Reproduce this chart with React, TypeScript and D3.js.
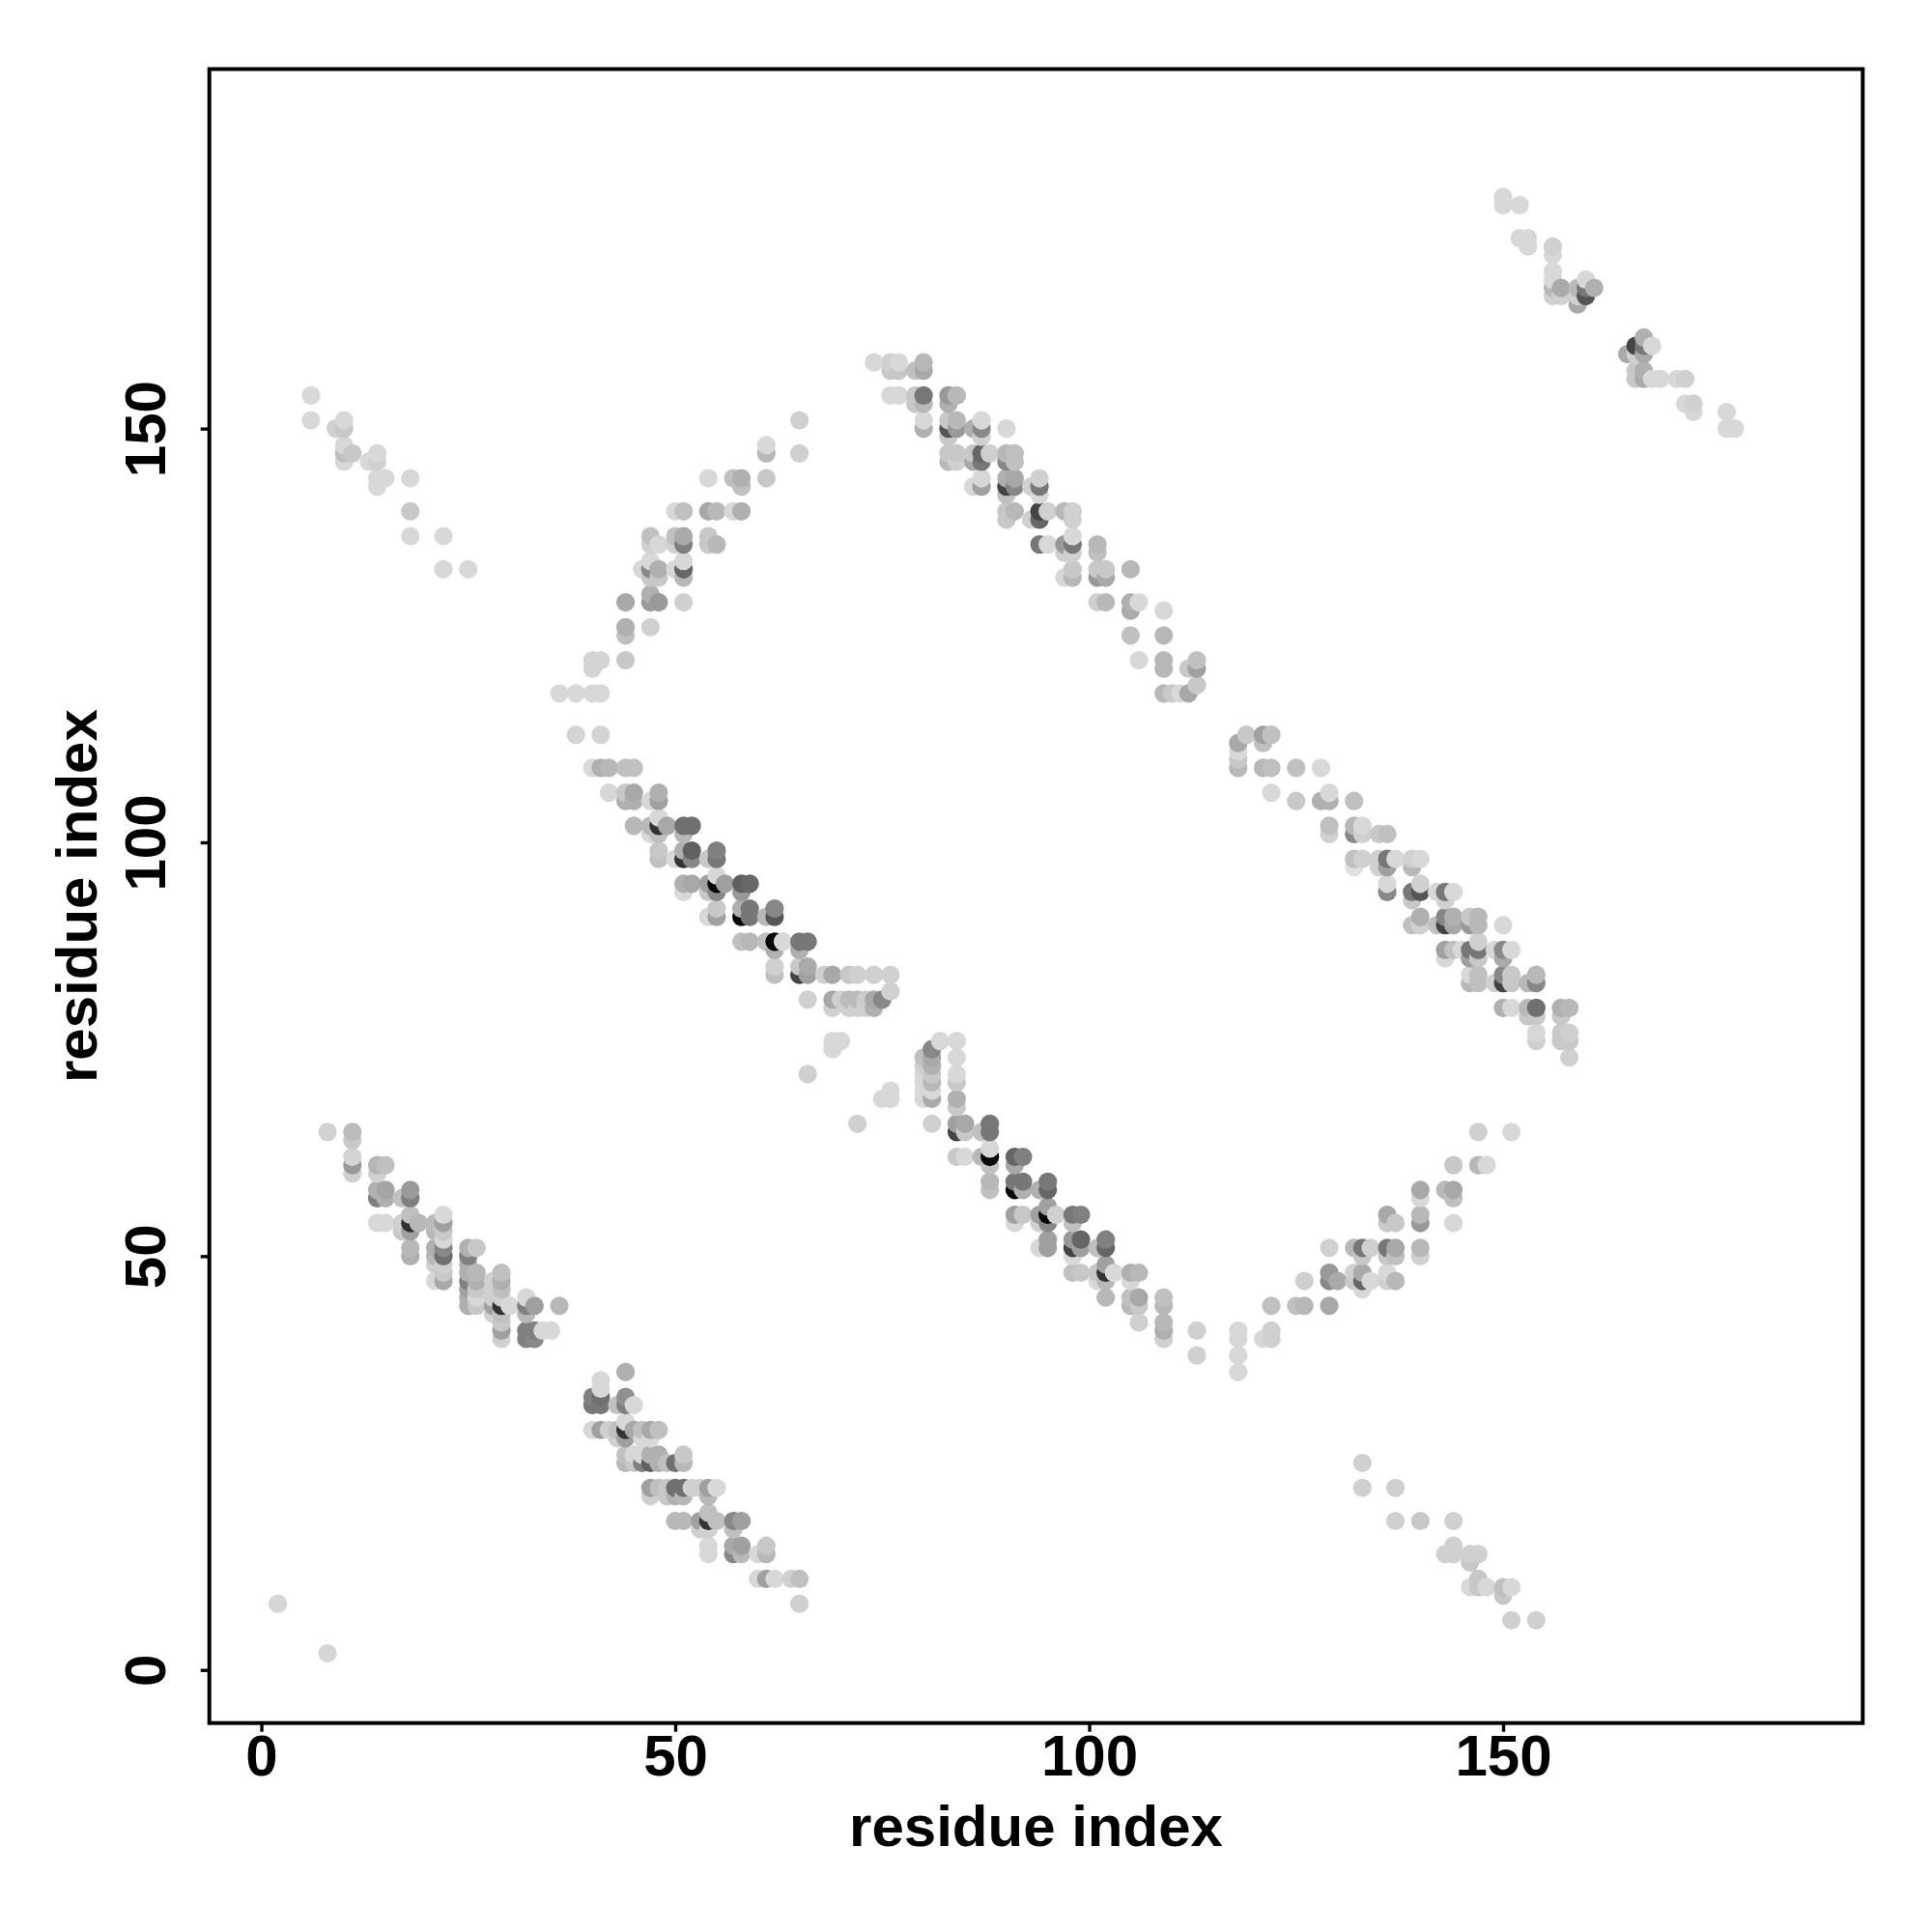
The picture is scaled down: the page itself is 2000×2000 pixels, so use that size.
/**
 * Residue contact map. Points are [residue x, residue y, gray level].
 * Drawn sorted by x then y, later points sit on top of earlier ones.
 */
import React, { useRef, useEffect } from 'react';
import * as d3 from 'd3';

type Contact = [number, number, number];

const SIZE = 2000;
const FONT = '"Liberation Sans", Arial, sans-serif';

const xTicks = [0, 50, 100, 150];
const yTicks = [0, 50, 100, 150];
const axisTitle = 'residue index';

const strayPoints: Contact[] = [
  [2, 8, 0xd6], [8, 2, 0xd6],
];

const lowerHelixA: Contact[] = [
  [8, 65, 0xd2], [11, 65, 0xbb], [11, 64, 0xca], [11, 62, 0xd4], [11, 61, 0x99], [11, 60, 0xd0],
  [14, 61, 0xb5], [15, 61, 0xc0], [14, 60, 0xd0], [14, 58, 0xb0], [15, 58, 0xa5], [14, 57, 0x80], [15, 57, 0xb0],
  [17, 57, 0xc0], [18, 58, 0x9a], [18, 57, 0x80], [14, 54, 0xd8], [15, 54, 0xd8], [17, 54, 0xd0], [17, 53, 0xc8],
  [18, 55, 0xc0], [18, 54, 0x30], [19, 54, 0xb8], [18, 53, 0xa0], [18, 51, 0xb8], [18, 50, 0xb0],
  [21, 54, 0xbb], [21, 53, 0xb8], [22, 55, 0xd8], [22, 54, 0xa0], [22, 53, 0xc8], [22, 52, 0xd8], [22, 51, 0x88],
  [22, 50, 0x70], [21, 51, 0xb0], [21, 50, 0xb8], [21, 49, 0xd0], [22, 49, 0xd0], [21, 47, 0xd8], [22, 48, 0xc8], [22, 47, 0xa8],
  [25, 51, 0xb0], [26, 51, 0xc8], [25, 50, 0x80], [25, 49, 0xb0], [25, 48, 0xb0], [26, 48, 0xb8], [26, 47, 0xb0],
  [25, 47, 0x80], [25, 46, 0xa0], [26, 46, 0xc8], [26, 45, 0xd8], [25, 45, 0xb0], [25, 44, 0xb0], [26, 44, 0xc8],
  [28, 47, 0xd0], [28, 46, 0xd0], [28, 45, 0xd0], [28, 44, 0xa0], [28, 43, 0xd0],
  [29, 48, 0xc0], [29, 47, 0xb0], [29, 46, 0xc0], [29, 45, 0xd0], [29, 44, 0x33], [29, 43, 0xc0], [30, 44, 0xd8],
  [29, 42, 0xc8], [29, 41, 0xa0], [29, 40, 0xd0], [32, 45, 0xd8], [32, 44, 0x80], [33, 44, 0xa0], [32, 43, 0xb8],
  [32, 41, 0x80], [32, 40, 0x80], [33, 41, 0x80], [33, 40, 0x88], [34, 41, 0xd8], [35, 41, 0xd8], [36, 44, 0xb8],
];

const lowerHelixB: Contact[] = [
  [44, 36, 0xb0], [41, 35, 0xd8], [41, 34, 0xd8], [40, 33, 0x80], [41, 33, 0x70], [40, 32, 0x78], [41, 32, 0x78],
  [44, 33, 0x90], [43, 32, 0xc0], [44, 32, 0x80], [45, 32, 0xd8],
  [40, 29, 0xd8], [41, 29, 0xa0], [42, 29, 0xd0], [43, 29, 0xc0], [44, 29, 0x33], [45, 29, 0xa8], [46, 29, 0xc0], [47, 29, 0xa8], [48, 29, 0xc0],
  [44, 30, 0xd8], [43, 28, 0xd0], [44, 28, 0xa0], [46, 28, 0xd8], [47, 28, 0xd8],
  [44, 26, 0xc0], [45, 26, 0xd8], [46, 26, 0xd8], [47, 26, 0xb0], [48, 26, 0xb0], [51, 26, 0xc8],
  [44, 25, 0xb8], [45, 25, 0xc8], [46, 25, 0x80], [47, 25, 0x60], [48, 25, 0xb0], [49, 25, 0xc0], [50, 25, 0x70], [51, 25, 0xb8],
  [47, 22, 0xa0], [48, 22, 0xc0], [49, 22, 0xc8], [50, 22, 0x70], [51, 22, 0x70], [52, 22, 0xd0], [53, 22, 0xd0], [54, 22, 0xa0], [55, 22, 0xd8],
  [47, 21, 0xd0], [49, 21, 0xc8], [50, 21, 0xb0], [51, 21, 0xb8], [54, 21, 0xb8],
  [50, 18, 0xb8], [51, 18, 0xb8], [53, 18, 0xa0], [54, 19, 0xc0], [54, 18, 0x33], [55, 18, 0xc0], [54, 17, 0xd0], [53, 17, 0xd0],
  [57, 18, 0x88], [58, 18, 0xa0], [57, 17, 0xc0], [54, 15, 0xd8], [54, 14, 0xd8], [57, 15, 0xa8], [58, 15, 0xa0], [57, 14, 0x88], [58, 14, 0xb8],
  [60, 14, 0xd8], [61, 15, 0xc8], [61, 14, 0xb8], [60, 11, 0xd8], [61, 11, 0xa0], [62, 11, 0xd8], [64, 11, 0xd0], [65, 11, 0xc0], [65, 8, 0xd0],
];

const middleHelix: Contact[] = [
  [36, 118, 0xd8], [38, 118, 0xd8], [40, 118, 0xd8], [41, 118, 0xd8], [40, 122, 0xd4], [41, 122, 0xd4], [40, 121, 0xd4], [44, 122, 0xc8],
  [38, 113, 0xd4], [41, 113, 0xd4], [40, 109, 0xd8], [41, 109, 0xb0], [42, 109, 0xb8], [44, 109, 0xc0], [45, 109, 0xc0],
  [42, 106, 0xd8], [44, 106, 0xc8], [45, 106, 0xa8], [48, 106, 0xb0], [44, 105, 0xb0], [45, 105, 0xb0], [47, 105, 0xd8], [48, 105, 0xa0],
  [45, 102, 0xb8], [47, 102, 0xb8], [48, 103, 0xd8], [48, 102, 0x33], [49, 102, 0xa8], [51, 102, 0x70], [52, 102, 0x70],
  [47, 101, 0xd8], [48, 101, 0xc0], [51, 101, 0xb8], [48, 99, 0xc8], [51, 99, 0xb0], [52, 99, 0x60], [55, 99, 0x80],
  [48, 98, 0xc0], [50, 98, 0xd8], [51, 98, 0x33], [52, 98, 0x88], [54, 98, 0xc8], [55, 98, 0x77],
  [51, 95, 0xb0], [52, 95, 0xa8], [54, 95, 0xa0], [55, 96, 0xd8], [55, 95, 0x08], [56, 95, 0xa0], [58, 95, 0x60], [59, 95, 0x68],
  [51, 94, 0xd8], [54, 94, 0xc8], [55, 94, 0x88], [58, 94, 0x99], [55, 92, 0xc8], [58, 92, 0xb0], [59, 92, 0x77], [62, 92, 0x88],
  [54, 91, 0xd8], [55, 91, 0xa0], [58, 91, 0x08], [59, 91, 0x77], [61, 91, 0xb8], [62, 91, 0x55],
  [58, 88, 0xc0], [59, 88, 0xb8], [61, 88, 0xc0], [62, 88, 0x08], [63, 88, 0xd8], [65, 88, 0x77], [66, 88, 0x77],
  [62, 87, 0xb0], [65, 87, 0xb0], [62, 85, 0xd0], [65, 85, 0xc8], [66, 85, 0xaa],
  [62, 84, 0xc0], [65, 84, 0x44], [66, 84, 0xa0], [68, 84, 0xd0], [69, 84, 0xa8], [71, 84, 0xc8], [72, 84, 0xd0], [74, 84, 0xd0], [76, 84, 0xd0],
  [76, 82, 0xd0], [66, 81, 0xd0], [69, 81, 0xa8], [70, 81, 0xd0], [71, 81, 0xbb], [72, 81, 0xbb], [73, 81, 0xcc], [74, 81, 0xa8], [75, 81, 0x88],
  [69, 80, 0xd0], [71, 80, 0xd0], [72, 80, 0xd0], [73, 80, 0xd0], [74, 80, 0xb0],
  [69, 76, 0xd8], [70, 76, 0xd8], [69, 75, 0xd8], [66, 72, 0xd0], [76, 70, 0xd8], [75, 69, 0xd8], [76, 69, 0xd8], [72, 66, 0xd0],
];

const centralHelix: Contact[] = [
  [81, 75, 0x88], [82, 76, 0xd8], [84, 76, 0xd8], [80, 74, 0xc0], [81, 74, 0xa8],
  [80, 73, 0xd0], [80, 72, 0xd8], [80, 71, 0xd8], [80, 70, 0xd8], [80, 69, 0xd8],
  [81, 73, 0xb0], [81, 72, 0xc8], [81, 71, 0xb8], [81, 70, 0xd8], [81, 69, 0xaa],
  [84, 74, 0xd8], [84, 72, 0xd8], [84, 71, 0xc8], [84, 69, 0xb0], [84, 68, 0xc8], [81, 66, 0xd0],
  [84, 66, 0xa0], [85, 66, 0xa8], [88, 66, 0x77], [84, 65, 0x44], [85, 65, 0xc8], [87, 65, 0xc0], [88, 65, 0x77],
  [84, 62, 0xc8], [85, 62, 0xd8], [87, 62, 0xb8], [88, 63, 0xd8], [88, 62, 0x08], [91, 62, 0x66], [92, 62, 0x80],
  [88, 61, 0xc0], [91, 61, 0xa8], [88, 59, 0xb8], [91, 59, 0x77], [92, 59, 0x77], [95, 59, 0x77],
  [88, 58, 0xc0], [91, 58, 0x08], [92, 58, 0xb0], [94, 58, 0xb0], [95, 58, 0x66],
  [91, 55, 0xa0], [92, 55, 0xc8], [94, 55, 0xa0], [95, 56, 0xa0], [95, 55, 0x04], [96, 55, 0xd0], [98, 55, 0x77], [99, 55, 0x80],
  [91, 54, 0xd8], [94, 54, 0xd0], [95, 54, 0x88], [98, 54, 0xc0], [95, 52, 0xa0], [98, 52, 0x99], [99, 52, 0x66], [102, 52, 0x80],
  [94, 51, 0xd8], [95, 51, 0xa0], [98, 51, 0x44], [99, 51, 0xa0], [101, 51, 0xc0], [102, 51, 0x66], [98, 50, 0xd8],
  [98, 48, 0xc0], [99, 48, 0xc8], [101, 48, 0xc8], [102, 49, 0xa0], [102, 48, 0x33], [103, 48, 0xd8], [105, 48, 0xb0], [106, 48, 0xb8],
  [101, 47, 0xd8], [102, 47, 0xb8], [105, 47, 0xd8], [102, 45, 0xb8], [105, 45, 0xc0], [106, 45, 0xa8], [109, 45, 0xc0],
  [105, 44, 0xb8], [106, 44, 0xc8], [109, 44, 0xb8], [109, 42, 0xb8], [109, 41, 0xb0], [109, 40, 0xd0], [106, 42, 0xd0],
  [113, 41, 0xd0], [113, 38, 0xd0], [118, 41, 0xd8], [118, 40, 0xd8], [118, 38, 0xd8], [118, 36, 0xd8],
  [121, 40, 0xd8], [122, 41, 0xd0], [122, 40, 0xd0], [122, 44, 0xc0], [125, 44, 0xc0], [126, 44, 0xb8], [126, 47, 0xd0],
];

const risingStrandLow: Contact[] = [
  [147, 65, 0xd0], [151, 65, 0xd8], [144, 61, 0xc8], [147, 61, 0xb8], [148, 61, 0xd8],
  [140, 58, 0xa8], [140, 57, 0xd8], [143, 58, 0xb8], [144, 58, 0xa8], [144, 57, 0xc0],
  [136, 55, 0xa8], [136, 54, 0xc8], [137, 54, 0xc8], [140, 55, 0xb8], [140, 54, 0x99], [144, 54, 0xd8],
  [129, 51, 0xd0], [132, 51, 0xb8], [133, 51, 0x77], [134, 51, 0xd0], [133, 50, 0xc8], [136, 51, 0x77], [137, 51, 0xa8],
  [136, 50, 0xc8], [137, 50, 0xc0], [140, 51, 0xb8], [140, 50, 0xd0],
  [129, 48, 0x99], [132, 48, 0xd0], [133, 48, 0xaa], [136, 48, 0xd8], [129, 47, 0x88], [130, 47, 0xaa], [132, 47, 0xc8],
  [133, 47, 0x66], [134, 47, 0xd8], [136, 47, 0xd0], [137, 47, 0xb8], [133, 46, 0xd8], [129, 44, 0xa8],
];

const lowerRightStrand: Contact[] = [
  [133, 25, 0xd0], [133, 22, 0xd0], [137, 22, 0xd0], [137, 18, 0xd0], [140, 18, 0xc8], [144, 18, 0xd0],
  [144, 15, 0xd0], [143, 14, 0xd0], [144, 14, 0xd0], [146, 14, 0xd0], [147, 14, 0xd0], [146, 13, 0xc8],
  [147, 11, 0xc8], [146, 10, 0xd8], [147, 10, 0xc8], [148, 10, 0xd8], [150, 10, 0xc0], [151, 10, 0xd8], [150, 9, 0xc8],
  [151, 6, 0xd0], [154, 6, 0xd0],
];

const rightHelix: Contact[] = [
  [119, 113, 0xc8], [118, 112, 0xa8], [121, 113, 0xa0], [122, 113, 0xc0], [121, 112, 0xc0], [118, 111, 0xd8], [118, 110, 0xc8], [118, 109, 0xb8],
  [121, 109, 0xb8], [122, 109, 0xc0], [125, 109, 0xc0], [128, 109, 0xd8], [122, 106, 0xd8], [125, 105, 0xc8], [128, 105, 0xb0], [129, 105, 0xb0],
  [129, 106, 0xd8], [132, 105, 0xc0], [129, 102, 0xc0], [129, 101, 0xd0], [132, 102, 0xb8], [132, 101, 0x88], [133, 102, 0xd8], [133, 101, 0xd0],
  [135, 101, 0xc8], [136, 101, 0xc0], [132, 98, 0xc0], [133, 98, 0xd0], [132, 97, 0xe0], [135, 98, 0xd0], [136, 98, 0x77], [137, 98, 0xd8],
  [135, 97, 0xd0], [136, 97, 0xa0], [139, 98, 0xd0], [140, 98, 0xd8], [139, 97, 0xb8], [136, 95, 0xd8], [136, 94, 0x88], [139, 94, 0x77],
  [140, 95, 0xd0], [140, 94, 0x55], [142, 94, 0xd8], [143, 94, 0x77], [144, 94, 0xd8], [139, 93, 0xc8], [143, 93, 0xd0],
  [140, 91, 0xb0], [139, 90, 0xc0], [140, 90, 0xd0], [142, 90, 0xc0], [143, 91, 0x88], [143, 90, 0x44], [144, 91, 0xb0], [144, 90, 0xa8],
  [146, 91, 0xc8], [147, 91, 0xb8], [146, 90, 0x99], [147, 90, 0xb8], [150, 90, 0xd8],
  [143, 87, 0xa0], [144, 87, 0xc0], [145, 87, 0xd8], [146, 87, 0x77], [147, 88, 0xd0], [147, 87, 0x77], [149, 87, 0xd8], [150, 87, 0x88], [151, 87, 0xd8],
  [143, 86, 0xd8], [146, 86, 0xa0], [147, 86, 0xc8], [150, 86, 0xaa],
  [146, 84, 0xd8], [147, 84, 0xc0], [150, 84, 0x88], [151, 84, 0xc8], [154, 84, 0xb8], [153, 83, 0xb8], [154, 83, 0x88],
  [146, 83, 0xb8], [147, 83, 0xc0], [149, 83, 0xd0], [150, 83, 0x44], [151, 83, 0xc8],
  [150, 80, 0xb0], [151, 80, 0xd8], [153, 80, 0xb8], [154, 80, 0x70], [157, 80, 0xb0], [158, 80, 0xb8],
  [153, 79, 0xc8], [154, 79, 0xc8], [157, 79, 0xc8], [154, 77, 0xd8], [157, 77, 0xc8], [158, 77, 0xd0],
  [154, 76, 0xd0], [157, 76, 0xc8], [158, 76, 0xc8], [158, 74, 0xd0],
];

const upperHelix: Contact[] = [
  [74, 158, 0xd8], [76, 158, 0xd0], [77, 158, 0xd8], [76, 157, 0xc8], [77, 157, 0xc8], [79, 157, 0xc0], [80, 158, 0xb8], [80, 157, 0xa8],
  [76, 154, 0xd8], [77, 154, 0xd8], [79, 154, 0xc8], [80, 154, 0x77], [79, 153, 0xc8], [80, 153, 0xb8], [83, 154, 0x99], [84, 154, 0xb8], [83, 153, 0xb0],
  [80, 151, 0xd8], [80, 150, 0xb0], [83, 151, 0xc8], [84, 151, 0xb8], [83, 150, 0x55], [84, 150, 0x99], [83, 149, 0xc8], [86, 150, 0xb0],
  [87, 151, 0xd8], [87, 150, 0x88], [87, 149, 0xd0], [90, 150, 0xd8],
  [83, 147, 0xc8], [84, 147, 0xc8], [86, 147, 0xc8], [87, 147, 0x66], [88, 147, 0xd0], [90, 147, 0xb8], [91, 147, 0xc0],
  [83, 146, 0xb8], [84, 146, 0xd0], [86, 146, 0xa8], [87, 146, 0x77], [90, 146, 0x88], [91, 146, 0xc0],
  [87, 144, 0xd8], [90, 144, 0xb0], [91, 144, 0xa8], [94, 144, 0xd0], [86, 143, 0xd8], [87, 143, 0xa0], [90, 143, 0x44], [91, 143, 0x88], [93, 143, 0xd0], [94, 143, 0x77],
  [90, 142, 0xc0], [94, 142, 0xd8], [90, 140, 0xc8], [91, 140, 0xb8], [94, 140, 0x44], [95, 140, 0xd0], [97, 140, 0xb8], [98, 140, 0xd0],
  [90, 139, 0xc8], [93, 139, 0xd0], [94, 139, 0x66], [98, 139, 0xd0],
  [94, 136, 0x77], [95, 136, 0xd8], [97, 136, 0x99], [98, 137, 0xd8], [98, 136, 0x77], [101, 136, 0xb8], [97, 135, 0xd0], [98, 135, 0xd0], [101, 135, 0xc0],
  [98, 133, 0xc8], [101, 133, 0xc8], [102, 133, 0xc8], [105, 133, 0xb8], [97, 132, 0xd8], [98, 132, 0xb8], [101, 132, 0x99], [102, 132, 0xaa],
  [101, 129, 0xd0], [102, 129, 0xb8], [105, 129, 0xb0], [106, 129, 0xd8], [105, 128, 0xaa], [109, 128, 0xd8], [105, 125, 0xc0], [109, 125, 0xb8],
  [106, 122, 0xd8], [109, 122, 0xb8], [109, 121, 0xb8], [112, 121, 0xc8], [113, 122, 0xc0], [113, 121, 0xa0],
  [109, 118, 0xb8], [110, 118, 0xc8], [111, 118, 0xd8], [112, 118, 0xa8], [113, 119, 0xc8],
];

const risingStrandHigh: Contact[] = [
  [65, 151, 0xd0], [65, 147, 0xd0], [61, 148, 0xd8], [61, 147, 0xb8], [61, 144, 0xc8],
  [54, 144, 0xd8], [57, 144, 0xc0], [58, 144, 0xb0], [58, 143, 0xc0],
  [50, 140, 0xd8], [51, 140, 0xc0], [54, 140, 0xa8], [55, 140, 0xb8], [57, 140, 0xd8], [58, 140, 0xb0],
  [47, 137, 0xc0], [50, 137, 0xc0], [51, 137, 0xaa], [54, 137, 0xc8], [47, 136, 0xd0], [48, 136, 0xd8], [50, 136, 0xd0], [51, 136, 0x80], [54, 136, 0xc8], [55, 136, 0xb8],
  [46, 133, 0xd8], [47, 134, 0xd8], [47, 133, 0x88], [48, 133, 0xb0], [50, 133, 0xd8], [51, 134, 0xd8], [51, 133, 0x66],
  [47, 132, 0xc8], [48, 132, 0xc8], [51, 132, 0xb8], [44, 129, 0xa8], [47, 130, 0xb0], [47, 129, 0x99], [48, 129, 0x99], [51, 129, 0xd0],
  [44, 126, 0xb0], [47, 126, 0xd0], [44, 125, 0xc0],
];

const upperLeftStrand: Contact[] = [
  [6, 154, 0xd8], [6, 151, 0xd8], [9, 150, 0xd0], [10, 151, 0xd8], [10, 150, 0xc8], [10, 148, 0xd8], [10, 147, 0xc0], [11, 147, 0xc8], [10, 146, 0xd8],
  [13, 146, 0xd8], [14, 147, 0xd8], [14, 146, 0xd0], [14, 144, 0xd8], [15, 144, 0xd8], [14, 143, 0xd8], [18, 144, 0xd8], [18, 140, 0xc8], [18, 137, 0xd8],
  [22, 137, 0xd8], [22, 133, 0xd8], [25, 133, 0xd8],
];

const upperRightStrand: Contact[] = [
  [150, 178, 0xd8], [150, 177, 0xd8], [152, 177, 0xd8], [152, 173, 0xd8], [153, 173, 0xd8], [153, 172, 0xd8], [156, 172, 0xd0], [156, 171, 0xd8],
  [156, 169, 0xd8], [156, 168, 0xd8], [156, 167, 0xb8], [156, 166, 0xd0], [157, 167, 0xaa], [157, 166, 0xd0], [159, 167, 0xb8], [159, 166, 0xd0], [159, 165, 0xaa],
  [160, 168, 0xd8], [160, 167, 0x77], [160, 166, 0x55], [161, 167, 0xb0],
  [167, 161, 0xb0], [166, 160, 0x44], [167, 159, 0xaa], [167, 160, 0x77], [168, 160, 0xd8], [165, 159, 0xaa], [166, 159, 0xd0],
  [166, 157, 0xc8], [166, 156, 0xc8], [167, 157, 0xb0], [167, 156, 0xaa], [168, 156, 0xd8], [169, 156, 0xd8], [171, 156, 0xd8], [172, 156, 0xd0],
  [172, 153, 0xd8], [173, 153, 0xd0], [173, 152, 0xd8], [177, 152, 0xd8], [177, 150, 0xd8], [178, 150, 0xd8],
];

const contacts: Contact[] = [
  ...strayPoints, ...lowerHelixA, ...lowerHelixB, ...middleHelix, ...centralHelix, ...risingStrandLow,
  ...lowerRightStrand, ...rightHelix, ...upperHelix, ...risingStrandHigh, ...upperLeftStrand, ...upperRightStrand,
].sort((a, b) => d3.ascending(a[0], b[0]) || d3.ascending(a[1], b[1]));

const App: React.FC = () => {
  const svgRef = useRef<SVGSVGElement>(null);

  useEffect(() => {
    if (!svgRef.current) return;
    const svg = d3.select(svgRef.current);
    svg.selectAll('*').remove();

    const panel = { left: 216.7, right: 1928.3, top: 71.5, bottom: 1783.7 };
    const x = d3.scaleLinear().domain([-6.28, 193.44]).range([panel.left, panel.right]);
    const y = d3.scaleLinear().domain([-6.42, 193.44]).range([panel.bottom, panel.top]);

    svg.append('g')
      .selectAll('circle')
      .data(contacts)
      .join('circle')
      .attr('cx', (d) => x(d[0]))
      .attr('cy', (d) => y(d[1]))
      .attr('r', 9.6)
      .attr('fill', (d) => d3.rgb(d[2], d[2], d[2]).formatHex());

    const xAxis = svg.append('g')
      .attr('transform', `translate(0, ${panel.bottom})`)
      .call(d3.axisBottom(x).tickValues(xTicks).tickSize(9).tickPadding(0));
    xAxis.select('.domain').remove();
    xAxis.selectAll('line').attr('stroke', '#000').attr('stroke-width', 3.4);
    xAxis.selectAll('text')
      .attr('y', 54.5).attr('dy', 0)
      .attr('fill', '#000').attr('font-size', 60).attr('font-weight', 'bold').attr('font-family', FONT);

    const yAxis = svg.append('g')
      .attr('transform', `translate(${panel.left}, 0)`)
      .call(d3.axisLeft(y).tickValues(yTicks).tickSize(9).tickPadding(0));
    yAxis.select('.domain').remove();
    yAxis.selectAll('line').attr('stroke', '#000').attr('stroke-width', 3.4);
    yAxis.selectAll('text')
      .attr('x', 0).attr('y', 0).attr('dy', 0)
      .attr('text-anchor', 'middle')
      .attr('transform', 'translate(-46, 0) rotate(-90)')
      .attr('fill', '#000').attr('font-size', 60).attr('font-weight', 'bold').attr('font-family', FONT);

    svg.append('rect')
      .attr('x', panel.left).attr('y', panel.top)
      .attr('width', panel.right - panel.left).attr('height', panel.bottom - panel.top)
      .attr('fill', 'none').attr('stroke', '#000').attr('stroke-width', 4);

    // axis titles
    svg.append('text')
      .attr('x', (panel.left + panel.right) / 2).attr('y', 1911)
      .attr('text-anchor', 'middle')
      .attr('font-size', 60).attr('font-weight', 'bold').attr('font-family', FONT)
      .text(axisTitle);
    svg.append('text')
      .attr('transform', `translate(99.5, ${(panel.top + panel.bottom) / 2}) rotate(-90)`)
      .attr('text-anchor', 'middle')
      .attr('font-size', 60).attr('font-weight', 'bold').attr('font-family', FONT)
      .text(axisTitle);
  }, []);

  return (
    <svg
      ref={svgRef}
      width={SIZE}
      height={SIZE}
      style={{ position: 'absolute', left: 0, top: 0, background: '#fff' }}
    />
  );
};

export default App;
